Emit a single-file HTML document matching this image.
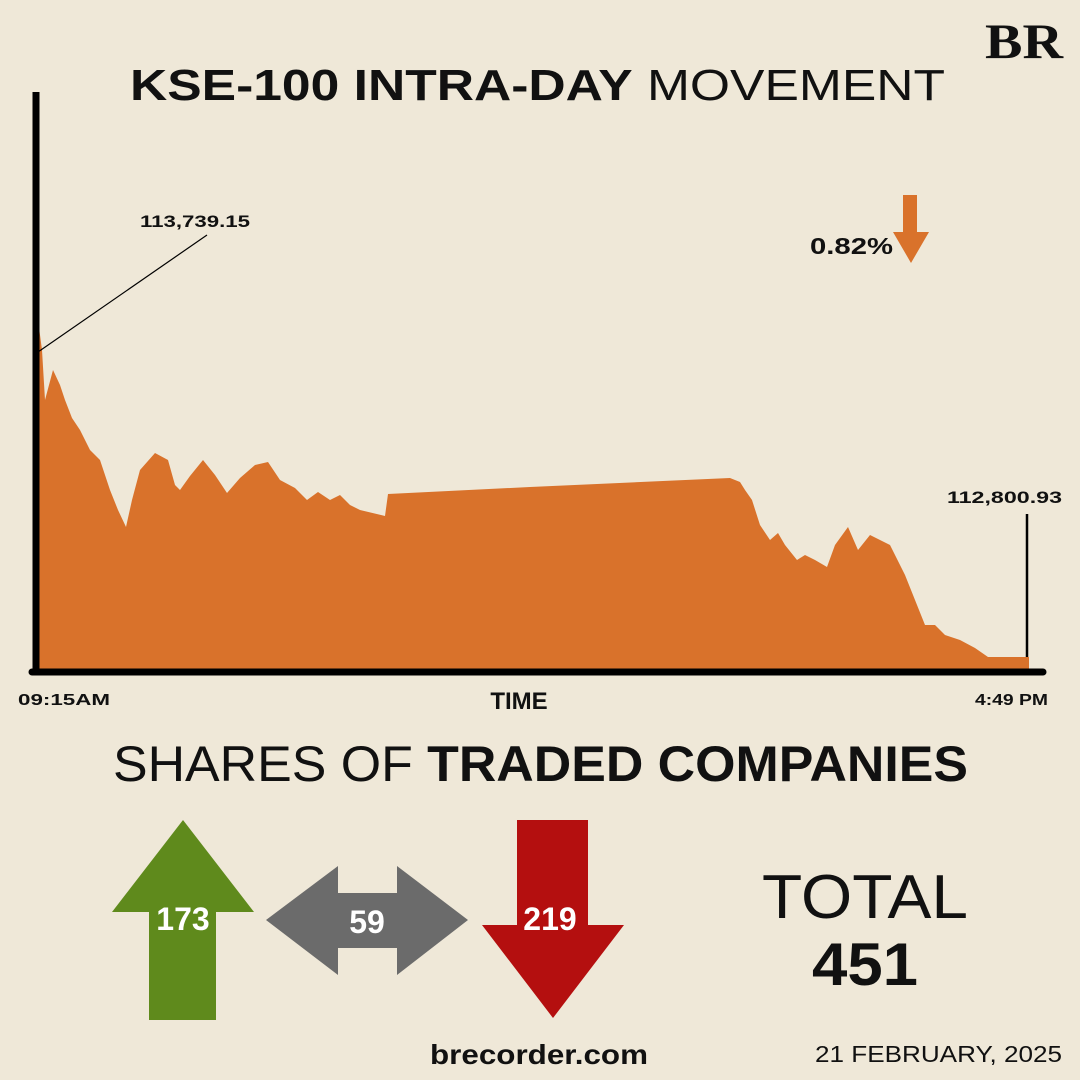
<!DOCTYPE html>
<html><head><meta charset="utf-8"><style>
html,body{margin:0;padding:0;background:#efe8d8;}
svg{display:block;}
</style></head><body>
<svg width="1080" height="1080" viewBox="0 0 1080 1080" xmlns="http://www.w3.org/2000/svg" font-family="Liberation Sans, sans-serif">
<rect width="1080" height="1080" fill="#efe8d8"/>
<text x="985" y="58" font-family="Liberation Serif, serif" font-weight="bold" font-size="50" textLength="78" lengthAdjust="spacingAndGlyphs" fill="#111">BR</text>
<text x="130" y="100" font-size="44" fill="#111" textLength="815" lengthAdjust="spacingAndGlyphs"><tspan font-weight="bold">KSE-100 INTRA-DAY</tspan> MOVEMENT</text>
<polygon fill="#d9722b" points="38,672 38,320 42,350 45,400 53,370 60,385 65,400 72,418 80,430 90,450 100,460 110,490 118,510 126,527 132,500 140,470 155,453 168,460 175,485 180,490 190,476 203,460 215,475 227,493 240,478 255,465 268,462 280,480 295,488 307,500 318,492 330,500 340,495 350,505 360,510 385,516 388,494 530,487 730,478 740,482 745,490 752,500 760,525 770,540 778,533 785,545 797,560 805,555 815,560 827,567 835,545 848,527 858,550 870,535 890,545 905,575 915,600 925,625 935,625 945,635 960,640 975,648 988,657 1029,657 1029,672"/>
<line x1="36" y1="92" x2="36" y2="675" stroke="#000" stroke-width="7"/>
<line x1="32" y1="672" x2="1043" y2="672" stroke="#000" stroke-width="7" stroke-linecap="round"/>
<line x1="38" y1="352" x2="207" y2="235" stroke="#000" stroke-width="1.2"/>
<text x="140" y="227" font-size="17" font-weight="bold" fill="#111" textLength="110" lengthAdjust="spacingAndGlyphs">113,739.15</text>
<line x1="1027" y1="514" x2="1027" y2="657" stroke="#000" stroke-width="2.5"/>
<text x="947" y="503" font-size="17" font-weight="bold" fill="#111" textLength="115" lengthAdjust="spacingAndGlyphs">112,800.93</text>
<text x="810" y="254" font-size="23" font-weight="bold" fill="#111" textLength="83" lengthAdjust="spacingAndGlyphs">0.82%</text>
<polygon fill="#d9722b" points="903,195 917,195 917,232 929,232 911,263 893,232 903,232"/>
<text x="519" y="709" font-size="24" font-weight="bold" fill="#111" text-anchor="middle">TIME</text>
<text x="18" y="705" font-size="16" font-weight="bold" fill="#111" textLength="92" lengthAdjust="spacingAndGlyphs">09:15AM</text>
<text x="975" y="705" font-size="16" font-weight="bold" fill="#111" textLength="73" lengthAdjust="spacingAndGlyphs">4:49 PM</text>
<text x="113" y="781" font-size="50" fill="#111" textLength="855" lengthAdjust="spacingAndGlyphs">SHARES OF <tspan font-weight="bold">TRADED COMPANIES</tspan></text>
<polygon fill="#5f8a1c" points="183,820 254,912 216,912 216,1020 149,1020 149,912 112,912"/>
<polygon fill="#6b6b6b" points="266,920 338,866 338,893 397,893 397,866 468,920 397,975 397,948 338,948 338,975"/>
<polygon fill="#b40f0f" points="517,820 588,820 588,925 624,925 553,1018 482,925 517,925"/>
<text x="183" y="930" font-size="32" font-weight="bold" fill="#fff" text-anchor="middle">173</text>
<text x="367" y="933" font-size="32" font-weight="bold" fill="#fff" text-anchor="middle">59</text>
<text x="550" y="930" font-size="32" font-weight="bold" fill="#fff" text-anchor="middle">219</text>
<text x="762" y="918" font-size="62" fill="#111" textLength="206" lengthAdjust="spacingAndGlyphs">TOTAL</text>
<text x="812" y="985" font-size="60" font-weight="bold" fill="#111" textLength="106" lengthAdjust="spacingAndGlyphs">451</text>
<text x="430" y="1064" font-size="28" font-weight="bold" fill="#111" textLength="218" lengthAdjust="spacingAndGlyphs">brecorder.com</text>
<text x="815" y="1062" font-size="23" fill="#111" textLength="247" lengthAdjust="spacingAndGlyphs">21 FEBRUARY, 2025</text>
</svg>
</body></html>
